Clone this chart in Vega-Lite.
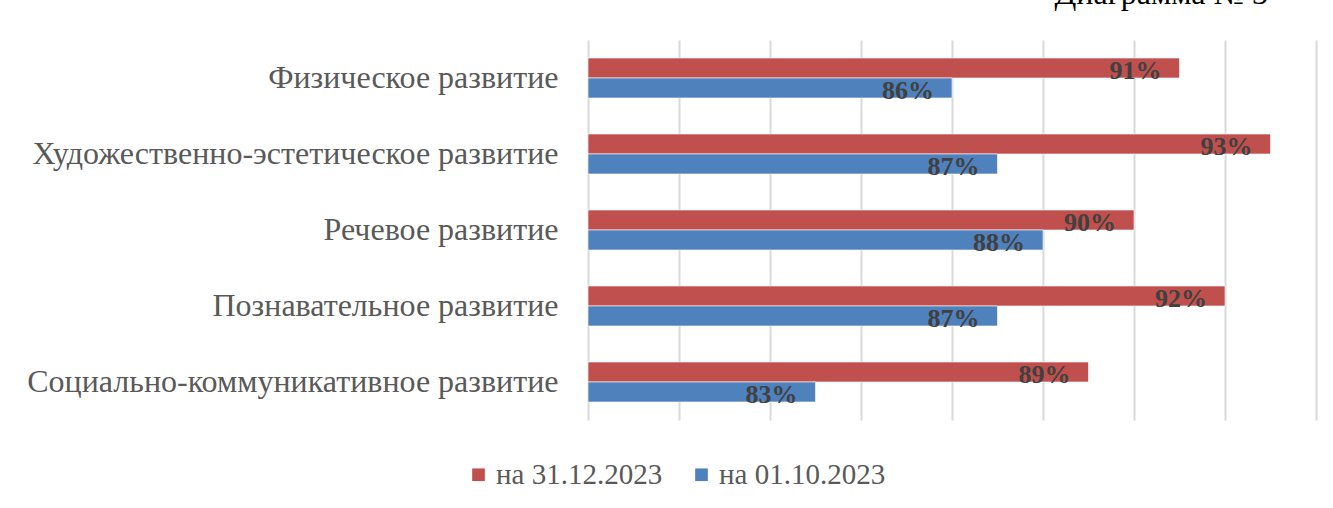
{
  "$schema": "https://vega.github.io/schema/vega-lite/v6.json",
  "width": 728,
  "height": 380,
  "autosize": {"type": "none"},
  "padding": {"left": 588, "top": 40, "right": 17, "bottom": 88},
  "background": "white",
  "config": {"view": {"stroke": null}},
  "title": {
    "text": "Диаграмма № 3",
    "anchor": "end",
    "orient": "top",
    "offset": 4,
    "dx": -48,
    "font": "Liberation Serif",
    "fontSize": 32,
    "fontWeight": "normal",
    "color": "#000000",
    "baseline": "alphabetic"
  },
  "data": {
    "values": [
      {"category": "Физическое развитие", "series": "на 31.12.2023", "value": 0.91},
      {"category": "Физическое развитие", "series": "на 01.10.2023", "value": 0.86},
      {"category": "Художественно-эстетическое развитие", "series": "на 31.12.2023", "value": 0.93},
      {"category": "Художественно-эстетическое развитие", "series": "на 01.10.2023", "value": 0.87},
      {"category": "Речевое развитие", "series": "на 31.12.2023", "value": 0.90},
      {"category": "Речевое развитие", "series": "на 01.10.2023", "value": 0.88},
      {"category": "Познавательное развитие", "series": "на 31.12.2023", "value": 0.92},
      {"category": "Познавательное развитие", "series": "на 01.10.2023", "value": 0.87},
      {"category": "Социально-коммуникативное развитие", "series": "на 31.12.2023", "value": 0.89},
      {"category": "Социально-коммуникативное развитие", "series": "на 01.10.2023", "value": 0.83}
    ]
  },
  "encoding": {
    "y": {
      "field": "category",
      "type": "nominal",
      "sort": ["Физическое развитие", "Художественно-эстетическое развитие", "Речевое развитие", "Познавательное развитие", "Социально-коммуникативное развитие"],
      "scale": {"paddingInner": 0.474, "paddingOuter": 0.237},
      "axis": {
        "title": null,
        "domain": false,
        "ticks": false,
        "labelPadding": 30,
        "labelFont": "Liberation Serif",
        "labelFontSize": 32,
        "labelColor": "#595959",
        "labelLimit": 0
      }
    },
    "yOffset": {
      "field": "series",
      "type": "nominal",
      "scale": {"domain": ["на 31.12.2023", "на 01.10.2023"], "paddingInner": 0, "paddingOuter": 0}
    },
    "x": {
      "field": "value",
      "type": "quantitative",
      "scale": {"domain": [0.78, 0.94], "zero": false, "nice": false},
      "axis": {
        "title": null,
        "values": [0.78, 0.80, 0.82, 0.84, 0.86, 0.88, 0.90, 0.92, 0.94],
        "labels": false,
        "ticks": false,
        "domain": false,
        "grid": true,
        "gridColor": "#d9d9d9",
        "gridWidth": 2
      }
    }
  },
  "layer": [
    {
      "mark": {"type": "bar", "stroke": "white", "strokeWidth": 0.6},
      "encoding": {
        "x2": {"datum": 0.78},
        "color": {
          "field": "series",
          "type": "nominal",
          "scale": {"domain": ["на 31.12.2023", "на 01.10.2023"], "range": ["#C0504D", "#4F81BD"]},
          "legend": {
            "title": null,
            "orient": "none",
            "direction": "horizontal",
            "legendX": -124,
            "legendY": 420,
            "symbolType": "square",
            "symbolSize": 160,
            "symbolStrokeWidth": 0,
            "labelFont": "Liberation Serif",
            "labelFontSize": 29,
            "labelColor": "#595959",
            "labelLimit": 0,
            "columnPadding": 24,
            "labelOffset": 3
          }
        }
      }
    },
    {
      "mark": {
        "type": "text",
        "align": "right",
        "baseline": "middle",
        "dx": -18,
        "dy": 3,
        "font": "Liberation Serif",
        "fontSize": 26,
        "fontWeight": "bold",
        "color": "#404040"
      },
      "encoding": {
        "text": {"field": "value", "type": "quantitative", "format": ".0%"}
      }
    }
  ]
}
